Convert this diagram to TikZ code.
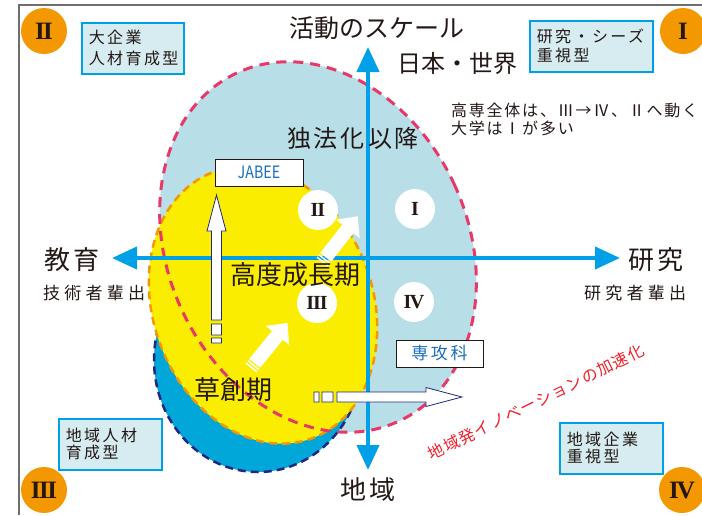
\documentclass[tikz,border=0pt]{standalone}
\usepackage{fontspec}
\setmainfont{Noto Sans CJK JP}
\newfontfamily\romfont{Liberation Serif}
\usepackage{graphicx}
\usetikzlibrary{calc, positioning}
\usetikzlibrary{arrows.meta}

\definecolor{axisblue}{RGB}{0,160,233}
\definecolor{skyfill}{RGB}{184,223,232}
\definecolor{yellowfill}{RGB}{250,237,0}
\definecolor{cyanfill}{RGB}{0,167,216}
\definecolor{dashpink}{RGB}{232,56,106}
\definecolor{dashorange}{RGB}{243,152,0}
\definecolor{dashnavy}{RGB}{32,40,128}
\definecolor{cornerorange}{RGB}{243,152,0}
\definecolor{boxfill}{RGB}{214,236,240}
\definecolor{inkdark}{RGB}{35,24,21}
\definecolor{labelblue}{RGB}{25,110,190}
\definecolor{innovred}{RGB}{240,30,40}
\definecolor{framegray}{RGB}{110,110,110}

\newcommand\jpsize[2]{\fontsize{#1}{#2}\selectfont}
\newcommand\spaced[1]{\addfontfeatures{LetterSpace=#1}}

\tikzset{
  dashline/.style={line width=2.5pt, dash pattern=on 8pt off 5pt},
  axisline/.style={axisblue, line width=4pt,
    {Triangle[length=25pt, width=22pt]}-{Triangle[length=25pt, width=22pt]}},
  typebox/.style={draw=axisblue, line width=1.6pt, fill=boxfill, anchor=north west,
    align=left, inner xsep=7pt, inner ysep=0pt, minimum height=51pt, text=inkdark},
  cornermark/.style={circle, fill=cornerorange, minimum size=46pt, inner sep=0pt,
    text=inkdark, font=\romfont\bfseries\jpsize{25}{25}},
  quadmark/.style={circle, fill=white, minimum size=40pt, inner sep=0pt,
    text=inkdark, font=\romfont\bfseries\jpsize{20}{20}},
  namebox/.style={draw=inkdark, line width=1pt, fill=white, minimum height=27pt,
    inner sep=0pt, text=labelblue},
  label/.style={text=inkdark, inner sep=0pt},
  openarrow/.pic={
    \draw[dashnavy, fill=white, line width=0.8pt]
      (0,-5) rectangle (5,5) (8,-5) rectangle (19,5)
      (23,-5) -- (112,-5) -- (112,-9.5) -- (148,0) -- (112,9.5) -- (112,5) -- (23,5) -- cycle;
  },
  stripearrow/.pic={
    \fill[white] (0,-7) rectangle (1.5,7) (3,-7) rectangle (4.5,7)
      (6,-7) -- (42,-7) -- (42,-15) -- (58,0) -- (42,15) -- (42,7) -- (6,7) -- cycle;
  }
}

\begin{document}
\begin{tikzpicture}[x=1pt, y=-1pt]
\useasboundingbox (0,0) rectangle (702,515);

\draw[framegray, line width=1.2pt] (702,5) -- (19,5) -- (19,515);

\coordinate (S) at (318,247);
\coordinate (Y) at (263,305);
\coordinate (C) at (258,360);

\fill[skyfill, rotate around={25:(S)}] (S) ellipse [x radius=150, y radius=192];
\filldraw[fill=cyanfill, draw=dashnavy, dashline] (C) ellipse [x radius=104, y radius=112];
\filldraw[fill=yellowfill, draw=dashorange, dashline, rotate around={20:(Y)}]
  (Y) ellipse [x radius=110, y radius=142];
\draw[dashpink, line width=3pt, dash pattern=on 10pt off 7pt, rotate around={25:(S)}]
  (S) ellipse [x radius=150, y radius=192];

\coordinate (ax-w) at (112,258);
\coordinate (ax-e) at (620,258);
\coordinate (ax-n) at (368,47);
\coordinate (ax-s) at (368,470);
\draw[axisline] (ax-w) -- (ax-e);
\draw[axisline] (ax-s) -- (ax-n);

\node[quadmark] (q2) at (318,210) {I\kern-1pt I};
\node[quadmark] (q1) at (415,209) {I};
\node[quadmark] (q3) at (317,303) {I\kern-1pt I\kern-1pt I};
\node[quadmark] (q4) at (414,302) {I\kern-1.5pt V};

\pic[rotate=90] at (216.5,343) {openarrow};
\pic at (314,397) {openarrow};
\pic[rotate=51] at (251,368) {stripearrow};
\pic[rotate=52] at (322,262) {stripearrow};

\node[namebox, minimum width=88pt, font=\jpsize{17}{17}] (jabee) at (259,172.5)
  {\scalebox{0.84}[1]{JABEE}};
\node[namebox, minimum width=87pt, font=\jpsize{17}{17}\spaced{16}] (senkoka) at (439.5,353.5)
  {専攻科};

\node[label, font=\jpsize{25}{25}] (scale) at (377,28) {活動のスケール};
\node[label, font=\jpsize{24}{24}] (world) at (457,63) {日本・世界};
\node[label, font=\jpsize{16}{18}\spaced{11}, align=left, anchor=west] (note) at (451,119)
  {高専全体は、Ⅲ→Ⅳ、Ⅱへ動く\\大学はⅠが多い};
\node[label, font=\jpsize{24}{24}\spaced{10}] (dokuho) at (353,138) {独法化\,以降};
\node[label, font=\jpsize{26}{26}] (kodo) at (295,275) {高度成長期};
\node[label, font=\jpsize{26}{26}] (soso) at (233,390) {草創期};

\node[label, font=\jpsize{26}{26}\spaced{14}] (edu) at (72,260) {教育};
\node[label, font=\jpsize{17}{17}\spaced{25}] (edu-sub) at (94,293) {技術者輩出};
\node[label, font=\jpsize{26}{26}\spaced{14}] (res) at (656,260) {研究};
\node[label, font=\jpsize{17}{17}\spaced{25}] (res-sub) at (635,293) {研究者輩出};
\node[label, font=\jpsize{26}{26}\spaced{14}] (local) at (368,490) {地域};

\node[inner sep=0pt, text=innovred, rotate=26.3, font=\jpsize{16}{16}\spaced{7}] (innov)
  at (536,402) {地域発イノベーションの加速化};

\node[typebox, text width=88pt, font=\jpsize{16}{21}\spaced{15}] (box2) at (81,22)
  {大企業\\人材育成型};
\node[typebox, text width=109pt, font=\jpsize{16}{19}\spaced{15}] (box1) at (529,20)
  {研究・シーズ\\重視型};
\node[typebox, text width=89pt, font=\jpsize{16}{17}\spaced{15}] (box3) at (58,418)
  {地域人材\\育成型};
\node[typebox, text width=89pt, font=\jpsize{16}{17}\spaced{15}] (box4) at (559,422)
  {地域企業\\重視型};

\node[cornermark] (c2) at (44,31) {I\kern-1.5pt I};
\node[cornermark] (c1) at (683,31) {I};
\node[cornermark] (c3) at (44,490) {I\kern-1.5pt I\kern-1.5pt I};
\node[cornermark] (c4) at (682,490) {I\kern-2pt V};
\end{tikzpicture}
\end{document}
